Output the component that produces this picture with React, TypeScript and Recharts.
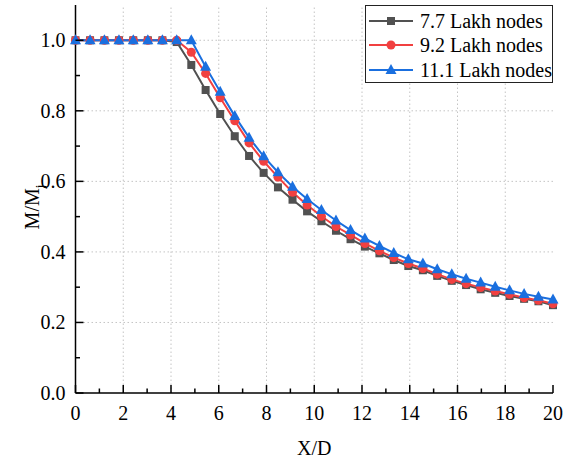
import React from 'react';
import { LineChart, Line, XAxis, YAxis, ReferenceLine, Legend } from 'recharts';

// X/D stations (34 points, 0..20)
const xOverD = [0, 0.61, 1.21, 1.82, 2.42, 3.03, 3.64, 4.24, 4.85, 5.45, 6.06, 6.67, 7.27, 7.88, 8.48, 9.09, 9.7, 10.3, 10.91, 11.52, 12.12, 12.73, 13.33, 13.94, 14.55, 15.15, 15.76, 16.36, 16.97, 17.58, 18.18, 18.79, 19.39, 20];

const lakh77 = [1, 1, 1, 1, 1, 1, 1, 0.995, 0.93, 0.859, 0.791, 0.728, 0.672, 0.624, 0.583, 0.548, 0.515, 0.487, 0.46, 0.436, 0.415, 0.396, 0.377, 0.36, 0.348, 0.332, 0.318, 0.306, 0.294, 0.284, 0.275, 0.267, 0.26, 0.249];
const lakh92 = [1, 1, 1, 1, 1, 1, 1, 1, 0.966, 0.906, 0.837, 0.772, 0.709, 0.657, 0.612, 0.569, 0.533, 0.501, 0.472, 0.448, 0.424, 0.403, 0.384, 0.367, 0.353, 0.337, 0.322, 0.31, 0.299, 0.289, 0.28, 0.27, 0.263, 0.253];
const lakh111 = [1, 1, 1, 1, 1, 1, 1, 1, 1, 0.925, 0.854, 0.785, 0.724, 0.671, 0.626, 0.585, 0.55, 0.519, 0.489, 0.462, 0.438, 0.417, 0.397, 0.379, 0.367, 0.351, 0.337, 0.324, 0.313, 0.301, 0.291, 0.281, 0.273, 0.265];

const seriesNames = ['7.7 Lakh nodes', '9.2 Lakh nodes', '11.1 Lakh nodes'];
const seriesColors = ['#515151', '#F14040', '#1A6FDF'];

const xTicks = [0, 1, 2, 3, 4, 5, 6, 7, 8, 9, 10, 11, 12, 13, 14, 15, 16, 17, 18, 19, 20];
const xGrid = [2, 4, 6, 8, 10, 12, 14, 16, 18];
const yTicks = [0, 0.1, 0.2, 0.3, 0.4, 0.5, 0.6, 0.7, 0.8, 0.9, 1.0];
const yGrid = [0.2, 0.4, 0.6, 0.8, 1.0];

const data = xOverD.map((x, i) => ({ x, a: lakh77[i], b: lakh92[i], c: lakh111[i] }));

const FONT = 'Liberation Serif';
const AXIS = '#000';
const GRID = '#c4c4c4';

const isMajorX = (v: number) => Math.round(v) % 2 === 0;
const isMajorY = (v: number) => Math.round(v * 10) % 2 === 0;

const BottomTick = ({ x, y, payload }: any) => {
  const major = isMajorX(payload.value);
  return (
    <g>
      <line x1={x} x2={x} y1={y} y2={y - (major ? 8 : 4.5)} stroke={AXIS} strokeWidth={1.5} />
      {major && (
        <text x={x} y={y + 27} textAnchor="middle" fontFamily={FONT} fontSize={20} fill="#000">
          {payload.value}
        </text>
      )}
    </g>
  );
};

const TopTick = ({ x, y, payload }: any) => {
  const major = isMajorX(payload.value);
  return <line x1={x} x2={x} y1={y} y2={y + (major ? 8 : 4.5)} stroke={AXIS} strokeWidth={1.5} />;
};

const LeftTick = ({ x, y, payload }: any) => {
  const major = isMajorY(payload.value);
  return (
    <g>
      <line x1={x} x2={x + (major ? 8 : 4.5)} y1={y} y2={y} stroke={AXIS} strokeWidth={1.5} />
      {major && (
        <text x={x - 10} y={y + 7} textAnchor="end" fontFamily={FONT} fontSize={20} fill="#000">
          {payload.value.toFixed(1)}
        </text>
      )}
    </g>
  );
};

const RightTick = ({ x, y, payload }: any) => {
  const major = isMajorY(payload.value);
  return <line x1={x} x2={x - (major ? 8 : 4.5)} y1={y} y2={y} stroke={AXIS} strokeWidth={1.5} />;
};

const Marker = ({ kind, cx, cy, color }: { kind: number; cx: number; cy: number; color: string }) => {
  if (kind === 0) return <rect x={cx - 4} y={cy - 4} width={8} height={8} fill={color} />;
  if (kind === 1) return <circle cx={cx} cy={cy} r={4.5} fill={color} />;
  return <polygon points={`${cx},${cy - 6} ${cx + 5.5},${cy + 4} ${cx - 5.5},${cy + 4}`} fill={color} />;
};

const makeDot = (kind: number) => (props: any) => {
  const { cx, cy, index } = props;
  if (cx == null || cy == null) return <g key={index} />;
  return (
    <g key={`${kind}-${index}`}>
      <Marker kind={kind} cx={cx} cy={cy} color={seriesColors[kind]} />
    </g>
  );
};

const YLabel = ({ viewBox }: any) => {
  const cx = viewBox.x + 23;
  const cy = viewBox.y + viewBox.height / 2 + 8;
  return (
    <text x={cx} y={cy} transform={`rotate(-90, ${cx}, ${cy})`} textAnchor="middle" fontFamily={FONT} fontSize={20} fill="#000">
      M/M<tspan fontSize={13} dy={5}>j</tspan>
    </text>
  );
};

const XLabel = ({ viewBox }: any) => (
  <text x={viewBox.x + viewBox.width / 2} y={viewBox.y + 62} textAnchor="middle" fontFamily={FONT} fontSize={20} fill="#000">
    X/D
  </text>
);

const LegendBox = () => (
  <div
    style={{
      border: '1.5px solid #222',
      background: '#fff',
      boxSizing: 'border-box',
      width: 188,
      height: 78,
      paddingTop: 3,
      fontFamily: FONT,
      fontSize: 20,
      color: '#000',
    }}
  >
    {seriesNames.map((name, i) => (
      <div key={name} style={{ display: 'flex', alignItems: 'center', height: 24.3 }}>
        <svg width={50} height={20} style={{ marginLeft: 1 }}>
          <line x1={2} x2={46} y1={10} y2={10} stroke={seriesColors[i]} strokeWidth={2} />
          <Marker kind={i} cx={24} cy={10} color={seriesColors[i]} />
        </svg>
        <span style={{ marginLeft: 3, whiteSpace: 'nowrap', lineHeight: '20px' }}>{name}</span>
      </div>
    ))}
  </div>
);

export default function App() {
  return (
    <div style={{ width: 564, height: 461, background: '#fff' }}>
      <style>{`body{margin:0;background:#fff}`}</style>
      <LineChart width={564} height={461} data={data} margin={{ top: 5, right: 11, left: 15.5, bottom: 0 }}>
        {xGrid.map((v) => (
          <ReferenceLine key={`gx${v}`} x={v} stroke={GRID} strokeDasharray="1.5 2.5" strokeWidth={1} />
        ))}
        {yGrid.map((v) => (
          <ReferenceLine key={`gy${v}`} y={v} stroke={GRID} strokeDasharray="1.5 2.5" strokeWidth={1} />
        ))}
        <XAxis
          dataKey="x"
          type="number"
          domain={[0, 20]}
          ticks={xTicks}
          interval={0}
          height={68}
          tickSize={0}
          tickMargin={0}
          tick={<BottomTick />}
          axisLine={{ stroke: AXIS, strokeWidth: 1.5 }}
          tickLine={false}
          label={<XLabel />}
        />
        <XAxis
          xAxisId="top"
          orientation="top"
          dataKey="x"
          type="number"
          domain={[0, 20]}
          ticks={xTicks}
          interval={0}
          height={0}
          tickSize={0}
          tickMargin={0}
          tick={<TopTick />}
          axisLine={{ stroke: AXIS, strokeWidth: 1.5 }}
          tickLine={false}
        />
        <YAxis
          type="number"
          domain={[0, 1.1]}
          ticks={yTicks}
          interval={0}
          width={60}
          tickSize={0}
          tickMargin={0}
          tick={<LeftTick />}
          axisLine={{ stroke: AXIS, strokeWidth: 1.5 }}
          tickLine={false}
          allowDataOverflow
          label={<YLabel />}
        />
        <YAxis
          yAxisId="right"
          orientation="right"
          type="number"
          domain={[0, 1.1]}
          ticks={yTicks}
          interval={0}
          width={0}
          tickSize={0}
          tickMargin={0}
          tick={<RightTick />}
          axisLine={{ stroke: AXIS, strokeWidth: 1.5 }}
          tickLine={false}
          allowDataOverflow
        />
        <Legend
          layout="vertical"
          align="center"
          verticalAlign="middle"
          content={<LegendBox />}
          wrapperStyle={{ position: 'absolute', top: 5, left: 365, width: 188, height: 78 }}
        />
        <Line dataKey="a" name={seriesNames[0]} stroke={seriesColors[0]} strokeWidth={2} dot={makeDot(0)} activeDot={false} isAnimationActive={false} />
        <Line dataKey="b" name={seriesNames[1]} stroke={seriesColors[1]} strokeWidth={2} dot={makeDot(1)} activeDot={false} isAnimationActive={false} />
        <Line dataKey="c" name={seriesNames[2]} stroke={seriesColors[2]} strokeWidth={2} dot={makeDot(2)} activeDot={false} isAnimationActive={false} />
      </LineChart>
    </div>
  );
}
